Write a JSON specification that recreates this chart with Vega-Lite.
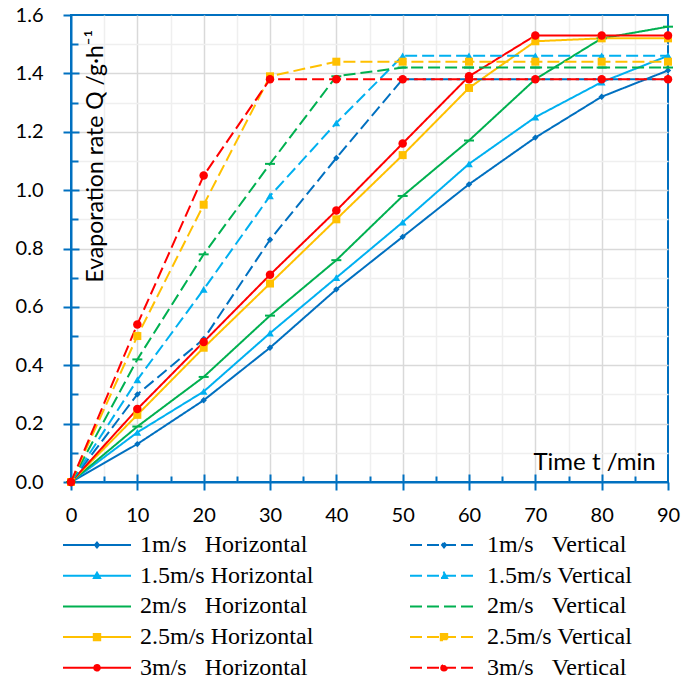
{
  "$schema": "https://vega.github.io/schema/vega-lite/v6.json",
  "width": 597,
  "height": 467,
  "autosize": {"type": "none"},
  "padding": {"left": 71, "top": 15, "right": 15, "bottom": 202},
  "background": "white",
  "config": {"view": {"stroke": "#0070C0", "strokeWidth": 2}, "font": "Lato"},
  "data": {"values": [
    {"s":"1m/s\u00a0\u00a0\u00a0Horizontal","v":"1","t":0,"q":0},
    {"s":"1m/s\u00a0\u00a0\u00a0Horizontal","v":"1","t":10,"q":0.13},
    {"s":"1m/s\u00a0\u00a0\u00a0Horizontal","v":"1","t":20,"q":0.28},
    {"s":"1m/s\u00a0\u00a0\u00a0Horizontal","v":"1","t":30,"q":0.46},
    {"s":"1m/s\u00a0\u00a0\u00a0Horizontal","v":"1","t":40,"q":0.66},
    {"s":"1m/s\u00a0\u00a0\u00a0Horizontal","v":"1","t":50,"q":0.84},
    {"s":"1m/s\u00a0\u00a0\u00a0Horizontal","v":"1","t":60,"q":1.02},
    {"s":"1m/s\u00a0\u00a0\u00a0Horizontal","v":"1","t":70,"q":1.18},
    {"s":"1m/s\u00a0\u00a0\u00a0Horizontal","v":"1","t":80,"q":1.32},
    {"s":"1m/s\u00a0\u00a0\u00a0Horizontal","v":"1","t":90,"q":1.41},
    {"s":"1.5m/s Horizontal","v":"1.5","t":0,"q":0},
    {"s":"1.5m/s Horizontal","v":"1.5","t":10,"q":0.17},
    {"s":"1.5m/s Horizontal","v":"1.5","t":20,"q":0.31},
    {"s":"1.5m/s Horizontal","v":"1.5","t":30,"q":0.51},
    {"s":"1.5m/s Horizontal","v":"1.5","t":40,"q":0.70},
    {"s":"1.5m/s Horizontal","v":"1.5","t":50,"q":0.89},
    {"s":"1.5m/s Horizontal","v":"1.5","t":60,"q":1.09},
    {"s":"1.5m/s Horizontal","v":"1.5","t":70,"q":1.25},
    {"s":"1.5m/s Horizontal","v":"1.5","t":80,"q":1.37},
    {"s":"1.5m/s Horizontal","v":"1.5","t":90,"q":1.46},
    {"s":"2m/s\u00a0\u00a0\u00a0Horizontal","v":"2","t":0,"q":0},
    {"s":"2m/s\u00a0\u00a0\u00a0Horizontal","v":"2","t":10,"q":0.19},
    {"s":"2m/s\u00a0\u00a0\u00a0Horizontal","v":"2","t":20,"q":0.36},
    {"s":"2m/s\u00a0\u00a0\u00a0Horizontal","v":"2","t":30,"q":0.57},
    {"s":"2m/s\u00a0\u00a0\u00a0Horizontal","v":"2","t":40,"q":0.76},
    {"s":"2m/s\u00a0\u00a0\u00a0Horizontal","v":"2","t":50,"q":0.98},
    {"s":"2m/s\u00a0\u00a0\u00a0Horizontal","v":"2","t":60,"q":1.17},
    {"s":"2m/s\u00a0\u00a0\u00a0Horizontal","v":"2","t":70,"q":1.38},
    {"s":"2m/s\u00a0\u00a0\u00a0Horizontal","v":"2","t":80,"q":1.52},
    {"s":"2m/s\u00a0\u00a0\u00a0Horizontal","v":"2","t":90,"q":1.56},
    {"s":"2.5m/s Horizontal","v":"2.5","t":0,"q":0},
    {"s":"2.5m/s Horizontal","v":"2.5","t":10,"q":0.23},
    {"s":"2.5m/s Horizontal","v":"2.5","t":20,"q":0.46},
    {"s":"2.5m/s Horizontal","v":"2.5","t":30,"q":0.68},
    {"s":"2.5m/s Horizontal","v":"2.5","t":40,"q":0.90},
    {"s":"2.5m/s Horizontal","v":"2.5","t":50,"q":1.12},
    {"s":"2.5m/s Horizontal","v":"2.5","t":60,"q":1.35},
    {"s":"2.5m/s Horizontal","v":"2.5","t":70,"q":1.51},
    {"s":"2.5m/s Horizontal","v":"2.5","t":80,"q":1.52},
    {"s":"2.5m/s Horizontal","v":"2.5","t":90,"q":1.52},
    {"s":"3m/s\u00a0\u00a0\u00a0Horizontal","v":"3","t":0,"q":0},
    {"s":"3m/s\u00a0\u00a0\u00a0Horizontal","v":"3","t":10,"q":0.25},
    {"s":"3m/s\u00a0\u00a0\u00a0Horizontal","v":"3","t":20,"q":0.48},
    {"s":"3m/s\u00a0\u00a0\u00a0Horizontal","v":"3","t":30,"q":0.71},
    {"s":"3m/s\u00a0\u00a0\u00a0Horizontal","v":"3","t":40,"q":0.93},
    {"s":"3m/s\u00a0\u00a0\u00a0Horizontal","v":"3","t":50,"q":1.16},
    {"s":"3m/s\u00a0\u00a0\u00a0Horizontal","v":"3","t":60,"q":1.39},
    {"s":"3m/s\u00a0\u00a0\u00a0Horizontal","v":"3","t":70,"q":1.53},
    {"s":"3m/s\u00a0\u00a0\u00a0Horizontal","v":"3","t":80,"q":1.53},
    {"s":"3m/s\u00a0\u00a0\u00a0Horizontal","v":"3","t":90,"q":1.53},
    {"s":"1m/s\u00a0\u00a0\u00a0Vertical","v":"1","t":0,"q":0},
    {"s":"1m/s\u00a0\u00a0\u00a0Vertical","v":"1","t":10,"q":0.30},
    {"s":"1m/s\u00a0\u00a0\u00a0Vertical","v":"1","t":20,"q":0.49},
    {"s":"1m/s\u00a0\u00a0\u00a0Vertical","v":"1","t":30,"q":0.83},
    {"s":"1m/s\u00a0\u00a0\u00a0Vertical","v":"1","t":40,"q":1.11},
    {"s":"1m/s\u00a0\u00a0\u00a0Vertical","v":"1","t":50,"q":1.38},
    {"s":"1m/s\u00a0\u00a0\u00a0Vertical","v":"1","t":60,"q":1.38},
    {"s":"1m/s\u00a0\u00a0\u00a0Vertical","v":"1","t":70,"q":1.38},
    {"s":"1m/s\u00a0\u00a0\u00a0Vertical","v":"1","t":80,"q":1.38},
    {"s":"1m/s\u00a0\u00a0\u00a0Vertical","v":"1","t":90,"q":1.38},
    {"s":"1.5m/s Vertical","v":"1.5","t":0,"q":0},
    {"s":"1.5m/s Vertical","v":"1.5","t":10,"q":0.35},
    {"s":"1.5m/s Vertical","v":"1.5","t":20,"q":0.66},
    {"s":"1.5m/s Vertical","v":"1.5","t":30,"q":0.98},
    {"s":"1.5m/s Vertical","v":"1.5","t":40,"q":1.23},
    {"s":"1.5m/s Vertical","v":"1.5","t":50,"q":1.46},
    {"s":"1.5m/s Vertical","v":"1.5","t":60,"q":1.46},
    {"s":"1.5m/s Vertical","v":"1.5","t":70,"q":1.46},
    {"s":"1.5m/s Vertical","v":"1.5","t":80,"q":1.46},
    {"s":"1.5m/s Vertical","v":"1.5","t":90,"q":1.46},
    {"s":"2m/s\u00a0\u00a0\u00a0Vertical","v":"2","t":0,"q":0},
    {"s":"2m/s\u00a0\u00a0\u00a0Vertical","v":"2","t":10,"q":0.42},
    {"s":"2m/s\u00a0\u00a0\u00a0Vertical","v":"2","t":20,"q":0.78},
    {"s":"2m/s\u00a0\u00a0\u00a0Vertical","v":"2","t":30,"q":1.09},
    {"s":"2m/s\u00a0\u00a0\u00a0Vertical","v":"2","t":40,"q":1.39},
    {"s":"2m/s\u00a0\u00a0\u00a0Vertical","v":"2","t":50,"q":1.42},
    {"s":"2m/s\u00a0\u00a0\u00a0Vertical","v":"2","t":60,"q":1.42},
    {"s":"2m/s\u00a0\u00a0\u00a0Vertical","v":"2","t":70,"q":1.42},
    {"s":"2m/s\u00a0\u00a0\u00a0Vertical","v":"2","t":80,"q":1.42},
    {"s":"2m/s\u00a0\u00a0\u00a0Vertical","v":"2","t":90,"q":1.42},
    {"s":"2.5m/s Vertical","v":"2.5","t":0,"q":0},
    {"s":"2.5m/s Vertical","v":"2.5","t":10,"q":0.50},
    {"s":"2.5m/s Vertical","v":"2.5","t":20,"q":0.95},
    {"s":"2.5m/s Vertical","v":"2.5","t":30,"q":1.39},
    {"s":"2.5m/s Vertical","v":"2.5","t":40,"q":1.44},
    {"s":"2.5m/s Vertical","v":"2.5","t":50,"q":1.44},
    {"s":"2.5m/s Vertical","v":"2.5","t":60,"q":1.44},
    {"s":"2.5m/s Vertical","v":"2.5","t":70,"q":1.44},
    {"s":"2.5m/s Vertical","v":"2.5","t":80,"q":1.44},
    {"s":"2.5m/s Vertical","v":"2.5","t":90,"q":1.44},
    {"s":"3m/s\u00a0\u00a0\u00a0Vertical","v":"3","t":0,"q":0},
    {"s":"3m/s\u00a0\u00a0\u00a0Vertical","v":"3","t":10,"q":0.54},
    {"s":"3m/s\u00a0\u00a0\u00a0Vertical","v":"3","t":20,"q":1.05},
    {"s":"3m/s\u00a0\u00a0\u00a0Vertical","v":"3","t":30,"q":1.38},
    {"s":"3m/s\u00a0\u00a0\u00a0Vertical","v":"3","t":40,"q":1.38},
    {"s":"3m/s\u00a0\u00a0\u00a0Vertical","v":"3","t":50,"q":1.38},
    {"s":"3m/s\u00a0\u00a0\u00a0Vertical","v":"3","t":60,"q":1.38},
    {"s":"3m/s\u00a0\u00a0\u00a0Vertical","v":"3","t":70,"q":1.38},
    {"s":"3m/s\u00a0\u00a0\u00a0Vertical","v":"3","t":80,"q":1.38},
    {"s":"3m/s\u00a0\u00a0\u00a0Vertical","v":"3","t":90,"q":1.38}
  ]},
  "resolve": {"axis": {"x": "independent", "y": "independent"}},
  "layer": [
    {
      "mark": {"type": "point", "filled": true, "size": 400, "opacity": 0},
      "encoding": {
        "x": {"field": "t", "type": "quantitative", "scale": {"domain": [0, 90], "nice": false},
          "axis": {"orient": "bottom", "values": [0,10,20,30,40,50,60,70,80,90], "grid": false, "domain": true, "domainColor": "#0070C0", "domainWidth": 2, "tickSize": 8, "tickColor": "#0070C0", "tickWidth": 2, "labelFont": "Lato", "labelFontSize": 20, "labelColor": "#000000", "labelBaseline": "alphabetic", "labelPadding": 31, "labelFlush": false, "labelOverlap": false,
            "title": "Time t  /min", "titleFont": "Lato", "titleFontSize": 24, "titleFontWeight": "normal", "titleColor": "#000000", "titleX": 462, "titleY": -13, "titleAlign": "left", "titleBaseline": "alphabetic", "titleAngle": 0, "zindex": 0}},
        "y": {"field": "q", "type": "quantitative", "scale": {"domain": [0, 1.6], "nice": false},
          "axis": {"orient": "left", "values": [0,0.2,0.4,0.6,0.8,1.0,1.2,1.4,1.6], "format": ".1f", "grid": false, "domain": true, "domainColor": "#0070C0", "domainWidth": 2, "tickSize": 8, "tickColor": "#0070C0", "tickWidth": 2, "labelFont": "Lato", "labelFontSize": 20, "labelColor": "#000000", "labelPadding": 20, "labelFlush": false, "labelOverlap": false,
            "title": "Evaporation rate Q /g·h⁻¹", "titleFont": "Lato", "titleFontSize": 23, "titleFontWeight": "normal", "titleColor": "#000000", "titleX": 31, "titleY": 267, "titleAlign": "left", "titleBaseline": "alphabetic", "titleAngle": 270, "zindex": 0}},
        "color": {"field": "s", "type": "nominal",
          "scale": {"domain": ["1m/s\u00a0\u00a0\u00a0Horizontal","1.5m/s Horizontal","2m/s\u00a0\u00a0\u00a0Horizontal","2.5m/s Horizontal","3m/s\u00a0\u00a0\u00a0Horizontal","1m/s\u00a0\u00a0\u00a0Vertical","1.5m/s Vertical","2m/s\u00a0\u00a0\u00a0Vertical","2.5m/s Vertical","3m/s\u00a0\u00a0\u00a0Vertical"],
            "range": ["#0070C0","#00B0F0","#00B050","#FFC000","#FF0000","#0070C0","#00B0F0","#00B050","#FFC000","#FF0000"]},
          "legend": {"orient": "none", "legendX": 14, "legendY": 518, "columns": 2, "columnPadding": 92, "rowPadding": 6.7, "padding": 0, "title": null,
            "labelFont": "Liberation Serif", "labelFontSize": 24, "labelColor": "#000000", "labelOffset": 31, "labelLimit": 400, "symbolSize": 400, "symbolStrokeWidth": 2, "symbolOpacity": 1}},
        "shape": {"field": "s", "type": "nominal",
          "scale": {"domain": ["1m/s\u00a0\u00a0\u00a0Horizontal","1.5m/s Horizontal","2m/s\u00a0\u00a0\u00a0Horizontal","2.5m/s Horizontal","3m/s\u00a0\u00a0\u00a0Horizontal","1m/s\u00a0\u00a0\u00a0Vertical","1.5m/s Vertical","2m/s\u00a0\u00a0\u00a0Vertical","2.5m/s Vertical","3m/s\u00a0\u00a0\u00a0Vertical"],
            "range": [
              "M-3.4,0L3.4,0M0,-0.25L0.2,0L0,0.25L-0.2,0Z",
              "M-3.4,0L3.4,0M0,-0.3L0.3,0.22L-0.3,0.22Z",
              "M-3.4,0L3.4,0",
              "M-3.4,0L3.4,0M-0.32,-0.32L0.32,-0.32L0.32,0.32L-0.32,0.32Z",
              "M-3.4,0L3.4,0M0.28,0A0.28,0.28,0,1,1,-0.28,0A0.28,0.28,0,1,1,0.28,0Z",
              "M-3.4,0L3.4,0M0,-0.25L0.2,0L0,0.25L-0.2,0Z",
              "M-3.4,0L3.4,0M0,-0.3L0.3,0.22L-0.3,0.22Z",
              "M-3.4,0L3.4,0",
              "M-3.4,0L3.4,0M-0.32,-0.32L0.32,-0.32L0.32,0.32L-0.32,0.32Z",
              "M-3.4,0L3.4,0M0.28,0A0.28,0.28,0,1,1,-0.28,0A0.28,0.28,0,1,1,0.28,0Z"]}},
        "strokeDash": {"field": "s", "type": "nominal",
          "scale": {"domain": ["1m/s\u00a0\u00a0\u00a0Horizontal","1.5m/s Horizontal","2m/s\u00a0\u00a0\u00a0Horizontal","2.5m/s Horizontal","3m/s\u00a0\u00a0\u00a0Horizontal","1m/s\u00a0\u00a0\u00a0Vertical","1.5m/s Vertical","2m/s\u00a0\u00a0\u00a0Vertical","2.5m/s Vertical","3m/s\u00a0\u00a0\u00a0Vertical"],
            "range": [[1,0],[1,0],[1,0],[1,0],[1,0],[12,5],[12,5],[12,5],[12,5],[12,5]]}}
      }
    },
    {
      "mark": {"type": "line", "strokeWidth": 2},
      "encoding": {
        "x": {"field": "t", "type": "quantitative", "scale": {"domain": [0, 90], "nice": false},
          "axis": {"orient": "bottom", "values": [5,15,25,35,45,55,65,75,85], "labels": false, "domain": false, "tickSize": -6, "tickColor": "#0070C0", "tickWidth": 2, "grid": true, "gridColor": "#efefef", "gridWidth": 1.5, "title": null, "zindex": 0}},
        "y": {"field": "q", "type": "quantitative", "scale": {"domain": [0, 1.6], "nice": false},
          "axis": {"orient": "left", "values": [0.1,0.3,0.5,0.7,0.9,1.1,1.3,1.5], "labels": false, "domain": false, "tickSize": -7, "tickColor": "#0070C0", "tickWidth": 2, "grid": true, "gridColor": "#efefef", "gridWidth": 1.5, "title": null, "zindex": 0}},
        "color": {"field": "s", "type": "nominal"},
        "strokeDash": {"field": "s", "type": "nominal"}
      }
    },
    {
      "transform": [{"filter": {"field": "v", "equal": "1"}}],
      "mark": {"type": "point", "shape": "diamond", "filled": true, "size": 40, "opacity": 1},
      "encoding": {
        "x": {"field": "t", "type": "quantitative", "scale": {"domain": [0, 90], "nice": false},
          "axis": {"orient": "bottom", "values": [10,20,30,40,50,60,70,80], "labels": false, "domain": false, "tickSize": -8, "tickColor": "#0070C0", "tickWidth": 2, "grid": true, "gridColor": "#d9d9d9", "gridWidth": 1.5, "title": null, "zindex": 0}},
        "y": {"field": "q", "type": "quantitative", "scale": {"domain": [0, 1.6], "nice": false},
          "axis": {"orient": "left", "values": [0.2,0.4,0.6,0.8,1.0,1.2,1.4], "labels": false, "domain": false, "tickSize": -8, "tickColor": "#0070C0", "tickWidth": 2, "grid": true, "gridColor": "#d9d9d9", "gridWidth": 1.5, "title": null, "zindex": 0}},
        "color": {"field": "s", "type": "nominal"}
      }
    },
    {
      "transform": [{"filter": {"field": "v", "equal": "1.5"}}],
      "mark": {"type": "point", "shape": "triangle-up", "filled": true, "size": 60, "opacity": 1},
      "encoding": {
        "x": {"field": "t", "type": "quantitative", "axis": null},
        "y": {"field": "q", "type": "quantitative", "axis": null},
        "color": {"field": "s", "type": "nominal"}
      }
    },
    {
      "transform": [{"filter": {"field": "v", "equal": "2"}}],
      "mark": {"type": "point", "shape": "M-1,-0.2L1,-0.2L1,0.2L-1,0.2Z", "filled": true, "size": 100, "opacity": 1},
      "encoding": {
        "x": {"field": "t", "type": "quantitative", "axis": null},
        "y": {"field": "q", "type": "quantitative", "axis": null},
        "color": {"field": "s", "type": "nominal"}
      }
    },
    {
      "transform": [{"filter": {"field": "v", "equal": "2.5"}}],
      "mark": {"type": "point", "shape": "square", "filled": true, "size": 64, "opacity": 1},
      "encoding": {
        "x": {"field": "t", "type": "quantitative", "axis": null},
        "y": {"field": "q", "type": "quantitative", "axis": null},
        "color": {"field": "s", "type": "nominal"}
      }
    },
    {
      "transform": [{"filter": {"field": "v", "equal": "3"}}],
      "mark": {"type": "point", "shape": "circle", "filled": true, "size": 72, "opacity": 1},
      "encoding": {
        "x": {"field": "t", "type": "quantitative", "axis": null},
        "y": {"field": "q", "type": "quantitative", "axis": null},
        "color": {"field": "s", "type": "nominal"}
      }
    }
  ]
}
